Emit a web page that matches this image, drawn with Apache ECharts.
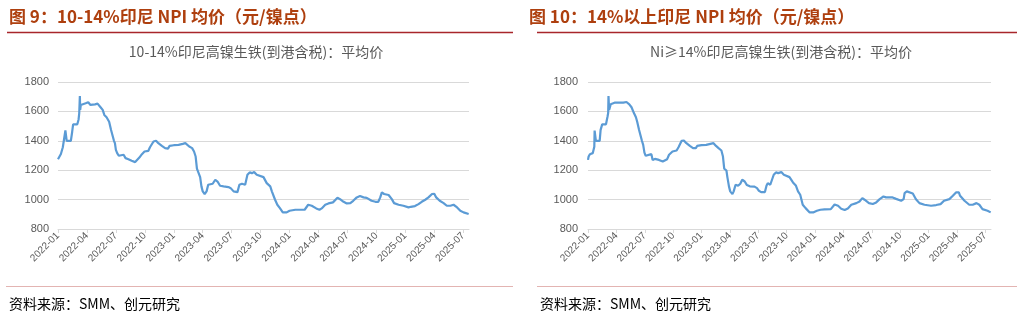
<!DOCTYPE html>
<html>
<head>
<meta charset="utf-8">
<script src="https://cdn.jsdelivr.net/npm/echarts@6.0.0/dist/echarts.min.js"></script>
<style>
html,body{margin:0;padding:0;background:#fff;}
#main{width:1023px;height:319px;}
</style>
</head>
<body>
<div id="main"></div>
<script>
// 图9：10-14%印尼NPI均价（元/镍点）
var datesA = ['2022-01-01','2022-01-10','2022-01-14','2022-01-16','2022-01-22','2022-01-24','2022-01-26','2022-01-28',
    '2022-02-11','2022-02-15','2022-02-18','2022-03-01','2022-03-05','2022-03-07','2022-03-09','2022-03-10','2022-03-12',
    '2022-03-18','2022-03-27','2022-04-05','2022-04-12','2022-04-26','2022-05-04','2022-05-12','2022-05-20','2022-05-25',
    '2022-06-02','2022-06-10','2022-06-16','2022-06-21','2022-06-25','2022-06-28','2022-07-01','2022-07-05','2022-07-10',
    '2022-07-14','2022-07-25','2022-08-01','2022-08-10','2022-08-20','2022-09-01','2022-09-07','2022-09-14','2022-09-22',
    '2022-09-30','2022-10-12','2022-10-17','2022-10-22','2022-10-28','2022-11-06','2022-11-13','2022-11-24','2022-12-04',
    '2022-12-13','2022-12-18','2023-01-01','2023-01-16','2023-01-29','2023-02-07','2023-02-13','2023-02-19','2023-02-28',
    '2023-03-04','2023-03-09','2023-03-13','2023-03-19','2023-03-23','2023-03-27','2023-04-01','2023-04-07','2023-04-13',
    '2023-04-18','2023-04-24','2023-05-02','2023-05-10','2023-05-17','2023-05-25','2023-06-06','2023-06-21','2023-06-28',
    '2023-07-07','2023-07-19','2023-07-25','2023-08-03','2023-08-13','2023-08-20','2023-08-27','2023-09-04','2023-09-11',
    '2023-09-19','2023-10-10','2023-10-20','2023-11-01','2023-11-06','2023-11-16','2023-11-23','2023-12-01','2023-12-10',
    '2023-12-22','2024-01-01','2024-01-19','2024-02-18','2024-02-29','2024-03-10','2024-03-24','2024-04-04','2024-04-11',
    '2024-04-22','2024-05-02','2024-05-16','2024-05-22','2024-05-30','2024-06-08','2024-06-19','2024-06-29','2024-07-10',
    '2024-07-19','2024-07-30','2024-08-10','2024-08-21','2024-09-01','2024-09-16','2024-09-28','2024-10-07','2024-10-13',
    '2024-10-18','2024-10-25','2024-11-09','2024-11-19','2024-11-26','2024-12-10','2024-12-25','2025-01-11','2025-01-18',
    '2025-02-01','2025-02-12','2025-02-22','2025-03-03','2025-03-13','2025-03-24','2025-04-01','2025-04-07','2025-04-18',
    '2025-04-30','2025-05-10','2025-05-21','2025-06-01','2025-06-12','2025-06-22','2025-07-02','2025-07-18'];
var priceA = [1275,1310,1312,1356,1356,1470,1463,1400,
    1400,1460,1512,1512,1545,1587,1705,1610,1644,
    1648,1655,1662,1644,1648,1653,1632,1610,1576,
    1560,1530,1474,1463,1400,1384,1338,1316,1298,
    1311,1305,1282,1275,1264,1255,1261,1286,1309,
    1327,1332,1356,1365,1395,1400,1384,1365,1350,
    1347,1365,1370,1372,1379,1384,1379,1361,1350,
    1327,1293,1210,1198,1153,1090,1056,1038,1056,
    1101,1094,1108,1135,1123,1094,1090,1085,1078,
    1056,1051,1101,1108,1101,1169,1185,1180,1187,
    1169,1153,1112,1090,1056,999,965,942,913,
    913,924,931,931,965,958,940,931,940,
    965,974,981,992,1012,1003,985,974,976,
    992,1015,1024,1015,1012,992,985,985,1015,
    1049,1038,1031,1003,976,965,958,947,951,
    956,969,985,999,1015,1038,1040,1015,992,
    976,958,958,965,947,924,913,902];

// 图10：14%以上印尼NPI均价（元/镍点）
var datesB = ['2022-01-01','2022-01-03','2022-01-07','2022-01-16','2022-01-21','2022-01-22','2022-01-25','2022-01-26',
    '2022-02-08','2022-02-11','2022-02-16','2022-02-28','2022-03-03','2022-03-05','2022-03-06','2022-03-08','2022-03-13',
    '2022-03-27','2022-04-23','2022-05-03','2022-05-12','2022-05-19','2022-05-27','2022-06-03','2022-06-07','2022-06-13',
    '2022-06-19','2022-06-22','2022-06-26','2022-06-30','2022-07-04','2022-07-09','2022-07-22','2022-07-26','2022-08-03',
    '2022-08-16','2022-08-28','2022-09-04','2022-09-12','2022-09-18','2022-09-29','2022-10-12','2022-10-18','2022-10-28',
    '2022-11-05','2022-11-13','2022-11-24','2022-12-04','2022-12-13','2022-12-17','2023-01-01','2023-01-16','2023-01-29',
    '2023-02-09','2023-02-17','2023-02-25','2023-03-04','2023-03-09','2023-03-13','2023-03-20','2023-03-23','2023-03-28',
    '2023-04-02','2023-04-09','2023-04-13','2023-04-19','2023-04-27','2023-05-04','2023-05-10','2023-05-18','2023-05-25',
    '2023-06-04','2023-06-19','2023-06-27','2023-07-03','2023-07-10','2023-07-22','2023-07-27','2023-08-01','2023-08-09',
    '2023-08-13','2023-08-20','2023-08-27','2023-09-04','2023-09-14','2023-09-22','2023-10-10','2023-10-21','2023-10-30',
    '2023-11-07','2023-11-14','2023-11-22','2023-12-01','2023-12-14','2023-12-25','2024-01-07','2024-01-18','2024-02-01',
    '2024-02-21','2024-03-03','2024-03-14','2024-03-24','2024-04-05','2024-04-15','2024-04-26','2024-05-12','2024-05-22',
    '2024-05-31','2024-06-08','2024-06-22','2024-07-04','2024-07-15','2024-07-26','2024-08-08','2024-08-16','2024-09-07',
    '2024-09-18','2024-10-04','2024-10-12','2024-10-15','2024-10-22','2024-10-28','2024-11-11','2024-11-21','2024-12-02',
    '2024-12-18','2025-01-09','2025-01-25','2025-02-09','2025-02-20','2025-03-07','2025-03-18','2025-03-28','2025-04-07',
    '2025-04-11','2025-04-25','2025-05-10','2025-05-21','2025-06-03','2025-06-12','2025-06-22','2025-07-08','2025-07-18'];
var priceB = [1270,1293,1309,1316,1360,1470,1465,1400,
    1400,1474,1512,1512,1565,1590,1705,1610,1648,
    1660,1660,1664,1648,1628,1587,1560,1530,1474,
    1463,1400,1372,1320,1298,1311,1309,1270,1277,
    1270,1259,1252,1275,1305,1327,1334,1356,1400,
    1402,1384,1365,1350,1350,1365,1370,1372,1379,
    1384,1365,1350,1334,1293,1210,1198,1153,1090,
    1056,1038,1056,1101,1094,1108,1135,1123,1099,
    1090,1088,1078,1060,1051,1051,1094,1112,1101,
    1105,1169,1185,1180,1187,1169,1153,1117,1096,
    1056,1033,965,942,913,913,924,931,933,
    935,967,958,938,929,940,965,976,987,
    1010,999,976,970,981,1003,1021,1015,1015,
    1005,992,1003,1044,1056,1044,1042,1003,976,
    965,958,963,969,992,1003,1026,1049,1049,
    1026,992,965,965,976,965,935,924,913];

var yTicks = [800, 1000, 1200, 1400, 1600, 1800];
var monthTicks = [0, 3, 6, 9, 12, 15, 18, 21, 24, 27, 30, 33, 36, 39, 42];

// 日期 -> 距2022-01的月数
function toMonth(s) {
    var p = s.split('-');
    return (parseInt(p[0]) - 2022) * 12 + (parseInt(p[1]) - 1) + (parseInt(p[2]) - 1) / 30;
}
function monthLabel(v) {
    var y = 2022 + Math.floor(v / 12);
    var m = Math.round(v % 12) + 1;
    return y + '-' + (m < 10 ? '0' + m : m);
}
function pairs(dates, vals) {
    var out = [];
    for (var i = 0; i < dates.length; i++) {
        out.push([toMonth(dates[i]), vals[i]]);
    }
    return out;
}

var myChart = echarts.init(document.getElementById('main'));
var cn = '"Noto Sans CJK SC", "Liberation Sans", sans-serif';
var num = '"Liberation Sans", "Noto Sans CJK SC", sans-serif';

function xAxisOf(i) {
    return {
        type: 'value', gridIndex: i, min: 0, max: 42.6,
        axisLine: {show: true, lineStyle: {color: '#d9d9d9', width: 1}},
        axisTick: {show: true, length: 4, lineStyle: {color: '#d9d9d9'}, customValues: monthTicks},
        axisLabel: {
            rotate: 45, margin: 5, color: '#595959', fontSize: 10, fontFamily: num,
            customValues: monthTicks,
            formatter: monthLabel
        },
        splitLine: {show: false}
    };
}
function yAxisOf(i, m) {
    return {
        type: 'value', gridIndex: i, min: yTicks[0], max: yTicks[yTicks.length - 1], interval: 200,
        axisLine: {show: false}, axisTick: {show: false},
        axisLabel: {color: '#595959', fontSize: 11, fontFamily: num, margin: m,
            formatter: function (v) { return String(v); }},
        splitLine: {lineStyle: {color: '#d9d9d9', width: 1}}
    };
}
function lineOf(i, data) {
    return {
        type: 'line', xAxisIndex: i, yAxisIndex: i, data: data,
        showSymbol: false, symbol: 'none', animation: false,
        lineStyle: {color: '#5B9BD5', width: 2.2}
    };
}

var option = {
    animation: false,
    grid: [
        {left: 58, top: 82, width: 411, height: 147},
        {left: 588, top: 82, width: 403, height: 147}
    ],
    xAxis: [xAxisOf(0), xAxisOf(1)],
    yAxis: [yAxisOf(0, 9), yAxisOf(1, 10)],
    series: [lineOf(0, pairs(datesA, priceA)), lineOf(1, pairs(datesB, priceB))],
    graphic: [
        {type: 'text', x: 9, y: 17, style: {text: '图 9：10-14%印尼 NPI 均价（元/镍点）', fill: '#AE3F0E',
            font: 'bold 17px ' + cn, textVerticalAlign: 'middle'}},
        {type: 'text', x: 529, y: 17, style: {text: '图 10：14%以上印尼 NPI 均价（元/镍点）', fill: '#AE3F0E',
            font: 'bold 17px ' + cn, textVerticalAlign: 'middle'}},
        {type: 'line', shape: {x1: 7, y1: 32.5, x2: 513, y2: 32.5}, style: {stroke: '#A8262B', lineWidth: 1.5}},
        {type: 'line', shape: {x1: 537, y1: 32.5, x2: 1017, y2: 32.5}, style: {stroke: '#A8262B', lineWidth: 1.5}},
        {type: 'text', x: 256, y: 52, style: {text: '10-14%印尼高镍生铁(到港含税)：平均价', fill: '#595959',
            font: '14px ' + cn, textAlign: 'center', textVerticalAlign: 'middle'}},
        {type: 'text', x: 781, y: 52, style: {text: 'Ni≥14%印尼高镍生铁(到港含税)：平均价', fill: '#595959',
            font: '14px ' + cn, textAlign: 'center', textVerticalAlign: 'middle'}},
        {type: 'line', shape: {x1: 6, y1: 286.5, x2: 513, y2: 286.5}, style: {stroke: '#E3B4B2', lineWidth: 1}},
        {type: 'line', shape: {x1: 537, y1: 286.5, x2: 1017, y2: 286.5}, style: {stroke: '#E3B4B2', lineWidth: 1}},
        {type: 'text', x: 9, y: 304, style: {text: '资料来源：SMM、创元研究', fill: '#000',
            font: '14px ' + cn, textVerticalAlign: 'middle'}},
        {type: 'text', x: 540, y: 304, style: {text: '资料来源：SMM、创元研究', fill: '#000',
            font: '14px ' + cn, textVerticalAlign: 'middle'}}
    ]
};
myChart.setOption(option);
</script>
</body>
</html>
